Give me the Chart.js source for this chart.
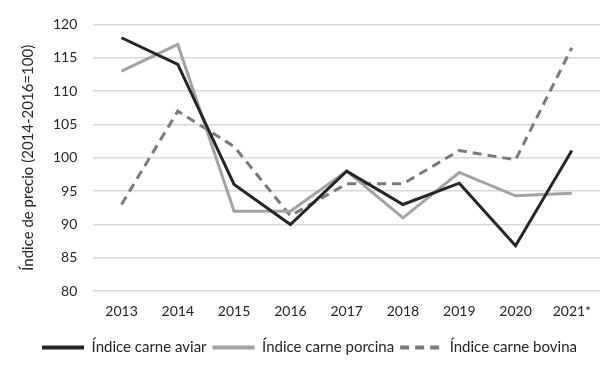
<!DOCTYPE html>
<html>
<head>
<meta charset="utf-8">
<script src="https://cdn.jsdelivr.net/npm/chart.js@4"></script>
<style>
  html, body { margin: 0; padding: 0; background: #fff; }
  #wrap { width: 616px; height: 369px; }
</style>
</head>
<body>
<div id="wrap"><canvas id="lineChart" width="616" height="369"></canvas></div>
<script>
var years = ["2013", "2014", "2015", "2016", "2017", "2018", "2019", "2020", "2021*"];
var aviar = [118, 114, 96, 90, 98, 93, 96.2, 86.8, 101.1];
var porcina = [113, 117, 92, 92, 98, 91, 97.8, 94.3, 94.7];
var bovina = [93, 107, 101.7, 91.3, 96.1, 96.1, 101.1, 99.7, 116.5];
var yTicks = [80, 85, 90, 95, 100, 105, 110, 115, 120];

var fontFam = "Lato, 'Open Sans', sans-serif";
var txtColor = "#262626";

var ctx = document.getElementById("lineChart");
var myChart = new Chart(ctx, {
    type: 'line',
    data: {
        labels: years,
        datasets: [
            { label: "Índice carne aviar", data: aviar, borderColor: "#262626", backgroundColor: "#262626", borderWidth: 3, pointRadius: 0, tension: 0 },
            { label: "Índice carne porcina", data: porcina, borderColor: "#a3a3a3", backgroundColor: "#a3a3a3", borderWidth: 3, pointRadius: 0, tension: 0 },
            { label: "Índice carne bovina", data: bovina, borderColor: "#7a7a7a", backgroundColor: "#7a7a7a", borderWidth: 3, borderDash: [9, 6], pointRadius: 0, tension: 0 }
        ]
    },
    options: {
        responsive: false,
        animation: false,
        layout: { padding: { left: 19, right: 16, top: 13, bottom: 4 } },
        plugins: {
            legend: {
                position: 'bottom',
                labels: {
                    usePointStyle: true,
                    pointStyle: 'line',
                    pointStyleWidth: 42,
                    boxHeight: 6,
                    padding: 6,
                    color: txtColor,
                    font: { family: fontFam, size: 15 },
                    generateLabels: function (chart) {
                        var items = Chart.defaults.plugins.legend.labels.generateLabels(chart);
                        items.forEach(function (it) {
                            var ds = chart.data.datasets[it.datasetIndex];
                            it.lineDash = ds.borderDash || [];
                            it.lineWidth = 4;
                            it.strokeStyle = ds.borderColor;
                            it.fillStyle = ds.borderColor;
                            it.lineCap = 'butt';
                        });
                        return items;
                    }
                }
            },
            tooltip: { enabled: false }
        },
        scales: {
            x: {
                offset: true,
                grid: { display: false },
                border: { display: false },
                ticks: { color: txtColor, font: { family: fontFam, size: 14 }, padding: 4 },
                afterFit: function (axis) { axis.height += 10; }
            },
            y: {
                min: 80,
                max: 120,
                afterBuildTicks: function (axis) {
                    axis.ticks = yTicks.map(function (v) { return { value: v }; });
                },
                grid: { color: "#d9d9d9", lineWidth: 1.5, drawTicks: false },
                border: { display: false },
                ticks: { color: txtColor, font: { family: fontFam, size: 14 }, padding: 16 },
                title: {
                    display: true,
                    text: "Índice de precio (2014-2016=100)",
                    color: txtColor,
                    font: { family: fontFam, size: 15 },
                    padding: { top: 0, bottom: 0 }
                }
            }
        }
    }
});
</script>
</body>
</html>
